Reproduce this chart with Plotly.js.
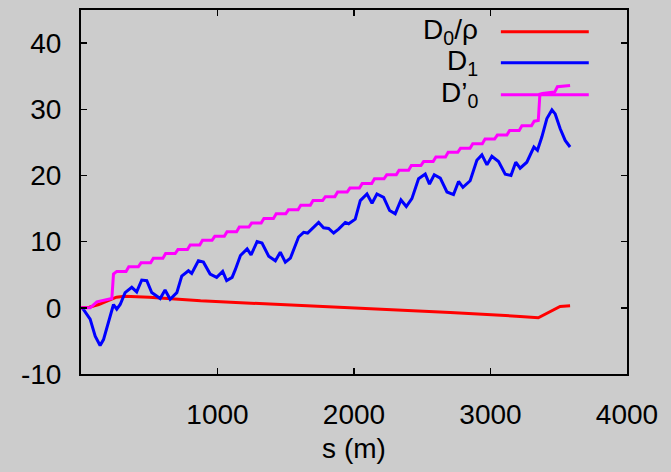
<!DOCTYPE html>
<html>
<head>
<meta charset="utf-8">
<script src="https://cdn.plot.ly/plotly-3.0.1.min.js"></script>
<style>
  html, body { margin: 0; padding: 0; background: #cccccc; }
  #chart { width: 671px; height: 472px; }
</style>
</head>
<body>
<div id="chart"></div>
<script>
// Distance along the track (m) and the three diagnostics
const redS = [0, 60, 130, 200, 260, 320, 500, 876, 1153, 1680, 2339, 2705, 3217, 3350, 3510, 3583];
const redV = [0, 0.1, 0.5, 1.1, 1.6, 1.75, 1.6, 1.05, 0.8, 0.25, -0.3, -0.7, -1.3, -1.5, 0.2, 0.3];

const blueS = [10, 67, 104, 140, 165, 201, 238, 262, 287, 323, 372, 408, 445, 482, 518, 580, 616, 653, 702,
  738, 787, 811, 860, 897, 946, 994, 1038, 1067, 1107, 1131, 1168, 1217, 1246, 1290, 1326, 1375, 1424,
  1460, 1497, 1534, 1594, 1631, 1660, 1741, 1777, 1814, 1851, 1887, 1936, 1961, 2009, 2046, 2095, 2132,
  2168, 2217, 2261, 2302, 2344, 2383, 2424, 2473, 2522, 2553, 2588, 2632, 2681, 2729, 2766, 2798, 2851,
  2900, 2937, 2974, 3010, 3059, 3108, 3150, 3185, 3217, 3266, 3318, 3344, 3376, 3413, 3450, 3474, 3510,
  3547, 3583];
const blueV = [0, -1.7, -4.3, -5.7, -4.8, -2.2, 0.5, -0.2, 0.5, 2.3, 3.1, 2.4, 4.2, 4.1, 2.3, 1.4, 2.7, 1.3, 2.3,
  4.8, 5.6, 5.2, 7.1, 6.9, 5.1, 4.6, 5.5, 4.1, 4.6, 5.8, 7.9, 8.9, 8.0, 10.0, 9.8, 7.8, 7.1,
  8.4, 6.9, 7.5, 10.7, 11.4, 11.3, 12.9, 12.1, 12.0, 11.3, 11.9, 12.9, 12.7, 13.4, 16.2, 17.2, 15.8,
  17.2, 16.7, 14.7, 14.2, 16.3, 15.3, 16.5, 19.5, 20.2, 18.7, 20.1, 19.6, 17.5, 17.1, 19.1, 18.2, 19.2,
  22.3, 23.1, 21.6, 22.9, 22.1, 20.2, 20.0, 22.0, 21.1, 22.0, 24.3, 23.8, 25.8, 28.6, 29.9, 29.3, 27.1,
  25.3, 24.3];

const magS = [0, 67, 116, 226, 238, 262, 330, 350, 420, 440, 510, 530, 600, 620, 690, 710, 780, 800, 870,
  890, 960, 980, 1050, 1070, 1140, 1160, 1230, 1250, 1320, 1340, 1410, 1430, 1500, 1520, 1590, 1610, 1680,
  1700, 1770, 1790, 1860, 1880, 1950, 1970, 2040, 2060, 2130, 2150, 2220, 2240, 2310, 2330, 2400, 2420,
  2490, 2510, 2580, 2600, 2670, 2690, 2760, 2780, 2850, 2870, 2940, 2960, 3030, 3050, 3120, 3140, 3210,
  3230, 3300, 3320, 3350, 3362, 3380, 3470, 3490, 3583];
const magV = [0, 0, 0.9, 1.4, 5.1, 5.5, 5.5, 6.2, 6.2, 6.8, 6.8, 7.5, 7.5, 8.2, 8.2, 8.8, 8.8, 9.5, 9.5,
  10.2, 10.2, 10.8, 10.8, 11.5, 11.5, 12.2, 12.2, 12.8, 12.8, 13.5, 13.5, 14.2, 14.2, 14.8, 14.8, 15.5, 15.5,
  16.2, 16.2, 16.8, 16.8, 17.5, 17.5, 18.1, 18.1, 18.8, 18.8, 19.5, 19.5, 20.1, 20.1, 20.8, 20.8, 21.5,
  21.5, 22.1, 22.1, 22.8, 22.8, 23.5, 23.5, 24.1, 24.1, 24.8, 24.8, 25.5, 25.5, 26.1, 26.1, 26.8, 26.8,
  27.5, 27.5, 28.2, 28.3, 32.3, 32.4, 32.6, 33.4, 33.6];

const xTicks = [1000, 2000, 3000, 4000];
const yTicks = [-10, 0, 10, 20, 30, 40];

const seriesNames = ['D<sub>0</sub>/ρ', 'D<sub>1</sub>', 'D’<sub>0</sub>'];
const seriesColors = ['#ff0000', '#0000ff', '#ff00ff'];

const FONT = 'Liberation Sans, Arial, Helvetica, sans-serif';

const traces = [
  {x: redS, y: redV, mode: 'lines', line: {color: seriesColors[0], width: 3}, name: seriesNames[0]},
  {x: blueS, y: blueV, mode: 'lines', line: {color: seriesColors[1], width: 3}, name: seriesNames[1]},
  {x: magS, y: magV, mode: 'lines', line: {color: seriesColors[2], width: 3}, name: seriesNames[2]}
];

// Key drawn gnuplot-style: label on the left, line sample on the right
const keyRows = [0.94, 0.855, 0.767];
const annotations = seriesNames.map((t, i) => ({
  xref: 'paper', yref: 'paper', x: 0.731, y: keyRows[i],
  xanchor: 'right', yanchor: 'middle', showarrow: false,
  text: t, font: {family: FONT, size: 28, color: '#000'}
}));
const shapes = seriesColors.map((c, i) => ({
  type: 'line', xref: 'paper', yref: 'paper',
  x0: 0.769, x1: 0.930, y0: keyRows[i], y1: keyRows[i],
  line: {color: c, width: 3}
}));

const axisCommon = {
  showline: true, linecolor: '#000', linewidth: 2, mirror: 'ticks',
  ticks: 'inside', ticklen: 6, tickwidth: 1.5, tickcolor: '#000',
  showgrid: false, zeroline: false,
  tickfont: {family: FONT, size: 28, color: '#000'}
};

const layout = {
  width: 671, height: 472,
  margin: {l: 81, r: 44, t: 10, b: 98},
  paper_bgcolor: '#cccccc', plot_bgcolor: '#cccccc',
  showlegend: false,
  font: {family: FONT, color: '#000'},
  xaxis: Object.assign({}, axisCommon, {
    range: [0, 4000], tickmode: 'array', tickvals: xTicks, ticktext: xTicks.map(String),
    ticklabelstandoff: 14,
    title: {text: 's (m)', font: {family: FONT, size: 28, color: '#000'}, standoff: 10}
  }),
  yaxis: Object.assign({}, axisCommon, {
    range: [-10, 45], tickmode: 'array', tickvals: yTicks, ticktext: yTicks.map(String),
    ticklabelstandoff: 12
  }),
  annotations: annotations,
  shapes: shapes
};

Plotly.newPlot('chart', traces, layout, {displayModeBar: false, staticPlot: true});
</script>
</body>
</html>
